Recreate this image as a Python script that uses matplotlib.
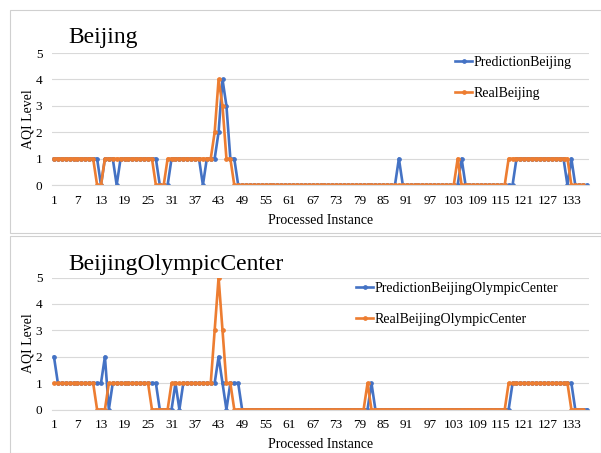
import matplotlib
matplotlib.use("Agg")
import matplotlib.pyplot as plt
from matplotlib.patches import Rectangle

plt.rcParams["font.family"] = ["Liberation Serif", "DejaVu Serif"]

# AQI levels per processed instance
pred_beijing = [
    1, 1, 1, 1, 1, 1, 1, 1, 1, 1,
    1, 1, 0, 1, 1, 1, 0, 1, 1, 1,
    1, 1, 1, 1, 1, 1, 1, 0, 0, 0,
    1, 1, 1, 1, 1, 1, 1, 1, 0, 1,
    1, 1, 2, 4, 3, 1, 1, 0, 0, 0,
    0, 0, 0, 0, 0, 0, 0, 0, 0, 0,
    0, 0, 0, 0, 0, 0, 0, 0, 0, 0,
    0, 0, 0, 0, 0, 0, 0, 0, 0, 0,
    0, 0, 0, 0, 0, 0, 0, 0, 1, 0,
    0, 0, 0, 0, 0, 0, 0, 0, 0, 0,
    0, 0, 0, 0, 1, 0, 0, 0, 0, 0,
    0, 0, 0, 0, 0, 0, 0, 0, 1, 1,
    1, 1, 1, 1, 1, 1, 1, 1, 1, 1,
    1, 0, 1, 0, 0, 0, 0,
]
real_beijing = [
    1, 1, 1, 1, 1, 1, 1, 1, 1, 1,
    1, 0, 0, 1, 1, 1, 1, 1, 1, 1,
    1, 1, 1, 1, 1, 1, 0, 0, 0, 1,
    1, 1, 1, 1, 1, 1, 1, 1, 1, 1,
    1, 2, 4, 3, 1, 1, 0, 0, 0, 0,
    0, 0, 0, 0, 0, 0, 0, 0, 0, 0,
    0, 0, 0, 0, 0, 0, 0, 0, 0, 0,
    0, 0, 0, 0, 0, 0, 0, 0, 0, 0,
    0, 0, 0, 0, 0, 0, 0, 0, 0, 0,
    0, 0, 0, 0, 0, 0, 0, 0, 0, 0,
    0, 0, 0, 1, 0, 0, 0, 0, 0, 0,
    0, 0, 0, 0, 0, 0, 1, 1, 1, 1,
    1, 1, 1, 1, 1, 1, 1, 1, 1, 1,
    1, 1, 0, 0, 0, 0,
]
pred_olympic = [
    2, 1, 1, 1, 1, 1, 1, 1, 1, 1,
    1, 1, 1, 2, 0, 1, 1, 1, 1, 1,
    1, 1, 1, 1, 1, 1, 1, 0, 0, 0,
    0, 1, 0, 1, 1, 1, 1, 1, 1, 1,
    1, 1, 2, 1, 0, 1, 1, 1, 0, 0,
    0, 0, 0, 0, 0, 0, 0, 0, 0, 0,
    0, 0, 0, 0, 0, 0, 0, 0, 0, 0,
    0, 0, 0, 0, 0, 0, 0, 0, 0, 0,
    0, 1, 0, 0, 0, 0, 0, 0, 0, 0,
    0, 0, 0, 0, 0, 0, 0, 0, 0, 0,
    0, 0, 0, 0, 0, 0, 0, 0, 0, 0,
    0, 0, 0, 0, 0, 0, 0, 1, 1, 1,
    1, 1, 1, 1, 1, 1, 1, 1, 1, 1,
    1, 1, 1, 0, 0, 0, 0,
]
real_olympic = [
    1, 1, 1, 1, 1, 1, 1, 1, 1, 1,
    1, 0, 0, 0, 1, 1, 1, 1, 1, 1,
    1, 1, 1, 1, 1, 0, 0, 0, 0, 0,
    1, 1, 1, 1, 1, 1, 1, 1, 1, 1,
    1, 3, 5, 3, 1, 1, 0, 0, 0, 0,
    0, 0, 0, 0, 0, 0, 0, 0, 0, 0,
    0, 0, 0, 0, 0, 0, 0, 0, 0, 0,
    0, 0, 0, 0, 0, 0, 0, 0, 0, 0,
    1, 0, 0, 0, 0, 0, 0, 0, 0, 0,
    0, 0, 0, 0, 0, 0, 0, 0, 0, 0,
    0, 0, 0, 0, 0, 0, 0, 0, 0, 0,
    0, 0, 0, 0, 0, 0, 1, 1, 1, 1,
    1, 1, 1, 1, 1, 1, 1, 1, 1, 1,
    1, 1, 0, 0, 0, 0,
]
x_tick_labels = [1, 7, 13, 19, 25, 31, 37, 43, 49, 55, 61, 67, 73, 79, 85,
                 91, 97, 103, 109, 115, 121, 127, 133]
y_ticks = [0, 1, 2, 3, 4, 5]

BLUE = "#4472C4"
ORANGE = "#ED7D31"
W, H = 601, 453


def fx(px):
    return px / W


def fy(py):
    return 1 - py / H


def draw_panel(fig, top_px, bottom_px, title, title_y, pred, real, station,
               legend_x, legend_y):
    ax = fig.add_axes([fx(52), fy(bottom_px), fx(589) - fx(52),
                       fy(top_px) - fy(bottom_px)])
    xp = range(1, len(pred) + 1)
    xr = range(1, len(real) + 1)
    ax.plot(xp, pred, color=BLUE, lw=1.9, marker="o", ms=2.4,
            label="Prediction" + station)
    ax.plot(xr, real, color=ORANGE, lw=1.9, marker="o", ms=2.4,
            label="Real" + station)
    ax.set_xlim(0.5, 137.5)
    ax.set_ylim(0, 5)
    ax.set_xticks(x_tick_labels)
    ax.set_xticklabels([str(v) for v in x_tick_labels], fontsize=9.5)
    ax.set_yticks(y_ticks)
    ax.set_yticklabels([str(v) for v in y_ticks], fontsize=9.5)
    ax.tick_params(axis="x", length=0, pad=7)
    ax.tick_params(axis="y", length=0, pad=7)
    ax.grid(axis="y", color="#d9d9d9", lw=0.8)
    ax.set_axisbelow(True)
    for side in ["top", "right", "left"]:
        ax.spines[side].set_visible(False)
    ax.spines["bottom"].set_color("#d9d9d9")
    ax.set_xlabel("Processed Instance", fontsize=10, labelpad=5)
    ax.set_ylabel("AQI Level", fontsize=10, labelpad=1)

    fig.text(fx(68), fy(title_y), title, fontsize=17, va="baseline")
    ax.legend(loc="upper left", bbox_to_anchor=(fx(legend_x), fy(legend_y)),
              bbox_transform=fig.transFigure, frameon=False, fontsize=10,
              handlelength=1.25, handletextpad=0.1, labelspacing=1.3,
              borderpad=0, borderaxespad=0)
    return ax


fig = plt.figure(figsize=(W / 100, H / 100), dpi=100)

# panel frames
fig.patches.append(Rectangle((fx(10), fy(233)), fx(601) - fx(10), fy(10) - fy(233),
                             transform=fig.transFigure, fill=False,
                             edgecolor="#d0d0d0", lw=0.8))
fig.patches.append(Rectangle((fx(10), fy(453)), fx(601) - fx(10), fy(236) - fy(453),
                             transform=fig.transFigure, fill=False,
                             edgecolor="#d0d0d0", lw=0.8))

draw_panel(fig, 53, 185, "Beijing", 43, pred_beijing, real_beijing,
           "Beijing", 455, 56)
draw_panel(fig, 277.5, 409.5, "BeijingOlympicCenter", 270, pred_olympic,
           real_olympic, "BeijingOlympicCenter", 356, 282)

fig.savefig("out.png", dpi=100)
